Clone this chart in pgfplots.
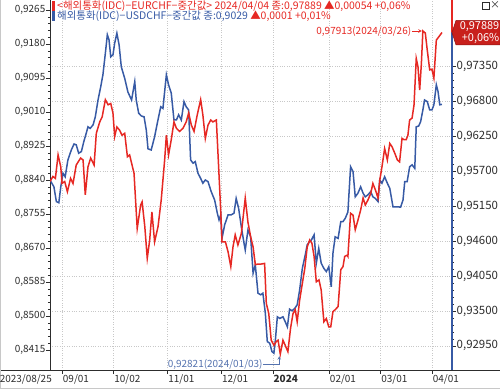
\documentclass[border=0pt]{standalone}
\usepackage{fontspec}
\setmainfont{Noto Sans CJK KR}
\usepackage{pgfplots}
\pgfplotsset{compat=1.18}
\usetikzlibrary{calc}
\definecolor{cred}{RGB}{230,40,35}
\definecolor{cblue}{RGB}{55,90,165}
\definecolor{annblue}{RGB}{85,115,175}
\definecolor{gridc}{RGB}{200,200,200}
\definecolor{txt}{RGB}{45,45,45}
\definecolor{boxred}{RGB}{200,32,28}
\newcommand\tl{\fontsize{10}{11}\selectfont}
\newcommand\tr{\fontsize{11.5}{12}\selectfont}
\newcommand\thd{\fontsize{10.5}{11}\selectfont}
\begin{document}
\begin{tikzpicture}[x=1bp,y=1bp]
\pgfplotsset{base/.style={scale only axis, width=402bp, height=370bp, at={(0,0)}, anchor=south west,
  xmin=0, xmax=164.1, tick align=outside, major tick length=4bp, minor tick length=2bp,
  major grid style={gridc, dotted, line width=0.5bp}}}
% right scale: grid and labels
\begin{axis}[base, ymin=0.9257, ymax=0.98401, axis y line*=right, hide x axis,
  ytick={0.9295,0.9350,0.9405,0.9460,0.9515,0.9570,0.9625,0.9680,0.9735},
  minor y tick num=4, ymajorgrids,
  y axis line style={cblue, line width=1.8bp},
  tick style={txt, line width=0.5bp},
  yticklabel style={font=\tr, text=txt, inner xsep=0.5bp},
  yticklabel={\pgfmathprintnumber[fixed,fixed zerofill,precision=5,use comma,assume math mode=true]{\tick}}]
\addplot[draw=none] coordinates {(0,0.95)};
\end{axis}
% left scale: USDCHF
\begin{axis}[base, ymin=0.8365, ymax=0.929, axis y line*=left, axis x line*=bottom,
  ytick={0.8415,0.8500,0.8585,0.8670,0.8755,0.8840,0.8925,0.9010,0.9095,0.9180,0.9265},
  minor y tick num=4,
  xtick={5,26,48,70,91,114,135,156},
  xticklabels={09/01,10/02,11/01,12/01,\textbf{2024},02/01,03/01,04/01},
  xmajorgrids,
  axis line style={txt, line width=0.6bp},
  tick style={txt, line width=0.5bp},
  yticklabel style={font=\tl, text=txt, inner xsep=0.5bp},
  xticklabel style={font=\tl, text=txt, anchor=north west, inner xsep=0.5bp, inner ysep=0.5bp},
  yticklabel={\pgfmathprintnumber[fixed,fixed zerofill,precision=4,use comma,assume math mode=true]{\tick}}]
\addplot[cblue, line width=1.5bp] coordinates {
(0,0.8840)(1.6,0.8823)(2.6,0.8786)(3.6,0.8783)(4.4,0.8823)(5.3,0.8857)(6.2,0.8848)(7.3,0.8890)(8.7,0.8915)(9.8,0.8930)(10.7,0.8928)(11.7,0.8907)(12.8,0.8911)(13.8,0.8936)(14.8,0.8957)(15.5,0.8973)(16.4,0.8969)(17.6,0.8978)(18.5,0.8998)(19.6,0.9040)(20.7,0.9073)(21.6,0.9103)(22.6,0.9157)(23.4,0.9203)(24.1,0.9190)(24.8,0.9148)(25.7,0.9153)(26.4,0.9182)(27.3,0.9207)(28.2,0.9178)(29.1,0.9123)(30.5,0.9094)(31.8,0.9060)(33.3,0.9040)(34.6,0.9086)(35.2,0.9040)(36.2,0.9007)(37.3,0.9000)(38.4,0.8998)(39.3,0.8965)(40.0,0.8918)(41.3,0.8915)(42.7,0.8948)(43.8,0.8982)(45.2,0.9023)(46.1,0.9019)(47.5,0.9103)(48.4,0.9078)(49.5,0.9057)(50.6,0.8990)(51.6,0.8990)(52.5,0.9003)(53.6,0.8990)(54.7,0.9036)(55.6,0.9023)(56.6,0.9015)(57.4,0.8890)(58.4,0.8882)(59.3,0.8886)(60.4,0.8857)(61.5,0.8844)(62.4,0.8832)(63.4,0.8840)(64.5,0.8836)(65.8,0.8811)(67.2,0.8790)(68.3,0.8757)(69.0,0.8740)(69.7,0.8753)(70.2,0.8694)(71.3,0.8728)(72.7,0.8753)(74.0,0.8753)(75.1,0.8757)(76.0,0.8794)(77.0,0.8769)(78.1,0.8723)(79.2,0.8682)(79.7,0.8665)(80.8,0.8715)(81.9,0.8698)(82.9,0.8607)(83.8,0.8628)(84.9,0.8557)(86.0,0.8553)(86.9,0.8557)(87.9,0.8507)(88.7,0.8436)(89.7,0.8432)(90.6,0.8411)(91.4,0.8407)(92.0,0.8440)(92.8,0.8498)(93.8,0.8494)(95.1,0.8498)(96.0,0.8486)(96.9,0.8473)(97.8,0.8517)(98.8,0.8513)(99.9,0.8519)(100.9,0.8528)(101.9,0.8565)(103.0,0.8619)(104.2,0.8653)(105.0,0.8678)(106.0,0.8686)(106.7,0.8690)(107.8,0.8703)(108.7,0.8632)(109.7,0.8669)(110.7,0.8632)(111.8,0.8619)(112.8,0.8611)(113.8,0.8623)(114.8,0.8573)(115.5,0.8657)(116.4,0.8698)(117.6,0.8694)(118.7,0.8736)(119.6,0.8736)(120.5,0.8744)(121.6,0.8760)(122.7,0.8873)(123.7,0.8861)(124.6,0.8798)(125.7,0.8807)(126.8,0.8823)(127.8,0.8807)(128.7,0.8798)(129.8,0.8803)(130.9,0.8811)(131.8,0.8798)(132.8,0.8794)(133.9,0.8786)(134.6,0.8840)(135.5,0.8832)(136.6,0.8848)(137.7,0.8832)(138.7,0.8819)(139.3,0.8798)(140.0,0.8773)(140.9,0.8773)(142.0,0.8773)(143.1,0.8772)(144.1,0.8790)(144.8,0.8836)(145.8,0.8836)(146.8,0.8873)(147.8,0.8878)(148.9,0.8869)(149.5,0.8973)(150.5,0.8975)(151.3,0.8986)(152.2,0.9015)(152.9,0.9040)(154.0,0.9036)(155.0,0.9015)(155.9,0.9015)(156.7,0.9028)(157.7,0.9078)(158.4,0.9061)(159.1,0.9028)(160.0,0.9029)};
\end{axis}
% right scale: EURCHF
\begin{axis}[base, ymin=0.9257, ymax=0.98401, hide axis]
\addplot[cred, line width=1.5bp] coordinates {
(0,0.9554)(1.2,0.9562)(2.2,0.9559)(3.3,0.9596)(4.4,0.9577)(4.9,0.9551)(6.0,0.9554)(7.1,0.9538)(8.4,0.9559)(9.4,0.9551)(10.7,0.9580)(12.5,0.9591)(13.5,0.9588)(14.4,0.9533)(15.5,0.9577)(16.6,0.9591)(18.0,0.9580)(18.9,0.9630)(20.3,0.9648)(21.3,0.9656)(22.6,0.9683)(23.7,0.9675)(24.8,0.9677)(25.7,0.9662)(26.4,0.9625)(27.3,0.9640)(28.4,0.9635)(29.4,0.9627)(30.5,0.9630)(31.6,0.9593)(32.5,0.9596)(34.3,0.9567)(35.6,0.9480)(37.0,0.9517)(37.6,0.9522)(38.7,0.9483)(39.7,0.9433)(40.7,0.9462)(41.6,0.9506)(42.7,0.9459)(44.1,0.9483)(45.4,0.9525)(46.8,0.9588)(47.5,0.9627)(48.4,0.9596)(49.5,0.9620)(50.6,0.9648)(51.6,0.9638)(52.9,0.9633)(54.3,0.9638)(55.6,0.9648)(56.6,0.9662)(57.7,0.9643)(58.8,0.9633)(60.1,0.9659)(61.5,0.9683)(62.4,0.9659)(63.4,0.9622)(64.5,0.9643)(65.6,0.9651)(66.5,0.9648)(67.9,0.9651)(68.9,0.9572)(69.7,0.9507)(70.2,0.9459)(71.6,0.9459)(72.7,0.9443)(73.8,0.9420)(74.7,0.9451)(75.6,0.9470)(76.7,0.9454)(78.1,0.9472)(79.7,0.9528)(80.8,0.9490)(81.9,0.9467)(82.9,0.9451)(83.8,0.9423)(84.9,0.9424)(86.2,0.9424)(87.6,0.9425)(88.3,0.9362)(89.3,0.9346)(90.3,0.9304)(91.4,0.9296)(92.4,0.9302)(93.1,0.9304)(94.0,0.92821)(95.1,0.9304)(96.0,0.9296)(97.1,0.9286)(98.2,0.9323)(99.2,0.9346)(100.1,0.9352)(100.9,0.9333)(101.9,0.9367)(102.9,0.9391)(104.0,0.9417)(105.0,0.9451)(106.0,0.9462)(106.9,0.9457)(107.8,0.9436)(108.7,0.9396)(109.8,0.9399)(110.7,0.9383)(111.8,0.9333)(112.8,0.9338)(113.8,0.9325)(114.6,0.9325)(115.5,0.9349)(116.4,0.9352)(117.6,0.9357)(118.7,0.9415)(119.6,0.9420)(120.3,0.9436)(121.3,0.9438)(121.6,0.9436)(122.7,0.9504)(123.7,0.9501)(124.6,0.9478)(125.7,0.9493)(126.8,0.9509)(127.8,0.9528)(128.7,0.9517)(129.8,0.9525)(130.9,0.9535)(131.8,0.9551)(132.8,0.9541)(133.9,0.9528)(134.6,0.9556)(135.5,0.9577)(136.6,0.9606)(137.7,0.9588)(138.7,0.9614)(139.6,0.9609)(140.7,0.9599)(141.8,0.9588)(142.7,0.9585)(143.7,0.9622)(144.5,0.9620)(145.4,0.9620)(146.1,0.9627)(146.8,0.9651)(147.8,0.9654)(148.6,0.9675)(149.5,0.9748)(150.2,0.9735)(150.9,0.9698)(151.6,0.9740)(152.2,0.97913)(153.2,0.9788)(154.0,0.9761)(155.0,0.9730)(155.9,0.9731)(156.7,0.9717)(157.7,0.9777)(158.7,0.9782)(160.0,0.97889)};
\coordinate (mn) at (axis cs:94.0,0.92821);
\coordinate (mx) at (axis cs:152.2,0.97913);
\coordinate (lv) at (axis cs:164.1,0.97889);
\end{axis}
% full-width base line and outer frame
\draw[txt, line width=0.6bp] (-50,0) -- (450,0);
\draw[gridc, line width=0.8bp] (-49.6,370) -- (-49.6,-18.6) -- (450,-18.6);
% annotations
\draw[annblue, line width=0.6bp, -stealth] ($(mn)+(-17,-10)$) -- ($(mn)+(-1,-10)$) -- ($(mn)+(-1,-2)$);
\node[annblue, font=\tl, anchor=east, inner sep=0.5bp] at ($(mn)+(-17,-10)$) {0,92821(2024/01/03)};
\draw[cred, line width=0.6bp, -stealth] ($(mx)+(-11,0)$) -- ($(mx)+(-1,0)$);
\node[cred, font=\tl, anchor=east, inner sep=0.5bp] at ($(mx)+(-11,0)$) {0,97913(2024/03/26)};
% current value marker
\draw[cred, line width=1.8bp] (lv) -- (402,370);
\filldraw[fill=boxred, draw=boxred!70!black, line width=0.5bp] (lv) -- ++(4,12) -- ++(44,0) -- ++(0,-24.5) -- ++(-44,0) -- cycle;
\node[white, font=\fontsize{11}{12}\selectfont, anchor=east, inner sep=0pt] at ($(lv)+(47.5,5.8)$) {0,97889};
\node[white, font=\fontsize{11}{12}\selectfont, anchor=east, inner sep=0pt] at ($(lv)+(47.5,-5.8)$) {+0,06\%};
% bottom-left date
\node[txt, font=\tl, anchor=north east, inner xsep=0pt, inner ysep=0.5bp] at (2,-4) {2023/08/25};
% header lines
\fill[cred] (2.3,359) rectangle (4.6,369);
\node[cred, font=\thd, anchor=west, inner sep=0pt] at (7,364) {<해외통화(IDC)−EURCHF−중간값> 2024/04/04 종:0,97889 ▲0,00054 +0,06\%};
\fill[cblue] (2.3,349) rectangle (4.6,359);
\node[font=\thd, anchor=west, inner sep=0pt] at (7,354) {\textcolor{cblue}{해외통화(IDC)−USDCHF−중간값 종:0,9029} \textcolor{cred}{▲0,0001 +0,01\%}};
% window buttons
\draw[txt, line width=0.6bp] (432,361) rectangle (439,368);
\draw[txt, line width=1.5bp] (432,367.3) -- (439,367.3);
\node[txt, font=\tl, inner sep=0pt] at (445,364.5) {×};
\pgfresetboundingbox
\path (-50,-19) rectangle (450,370);
\end{tikzpicture}
\end{document}
